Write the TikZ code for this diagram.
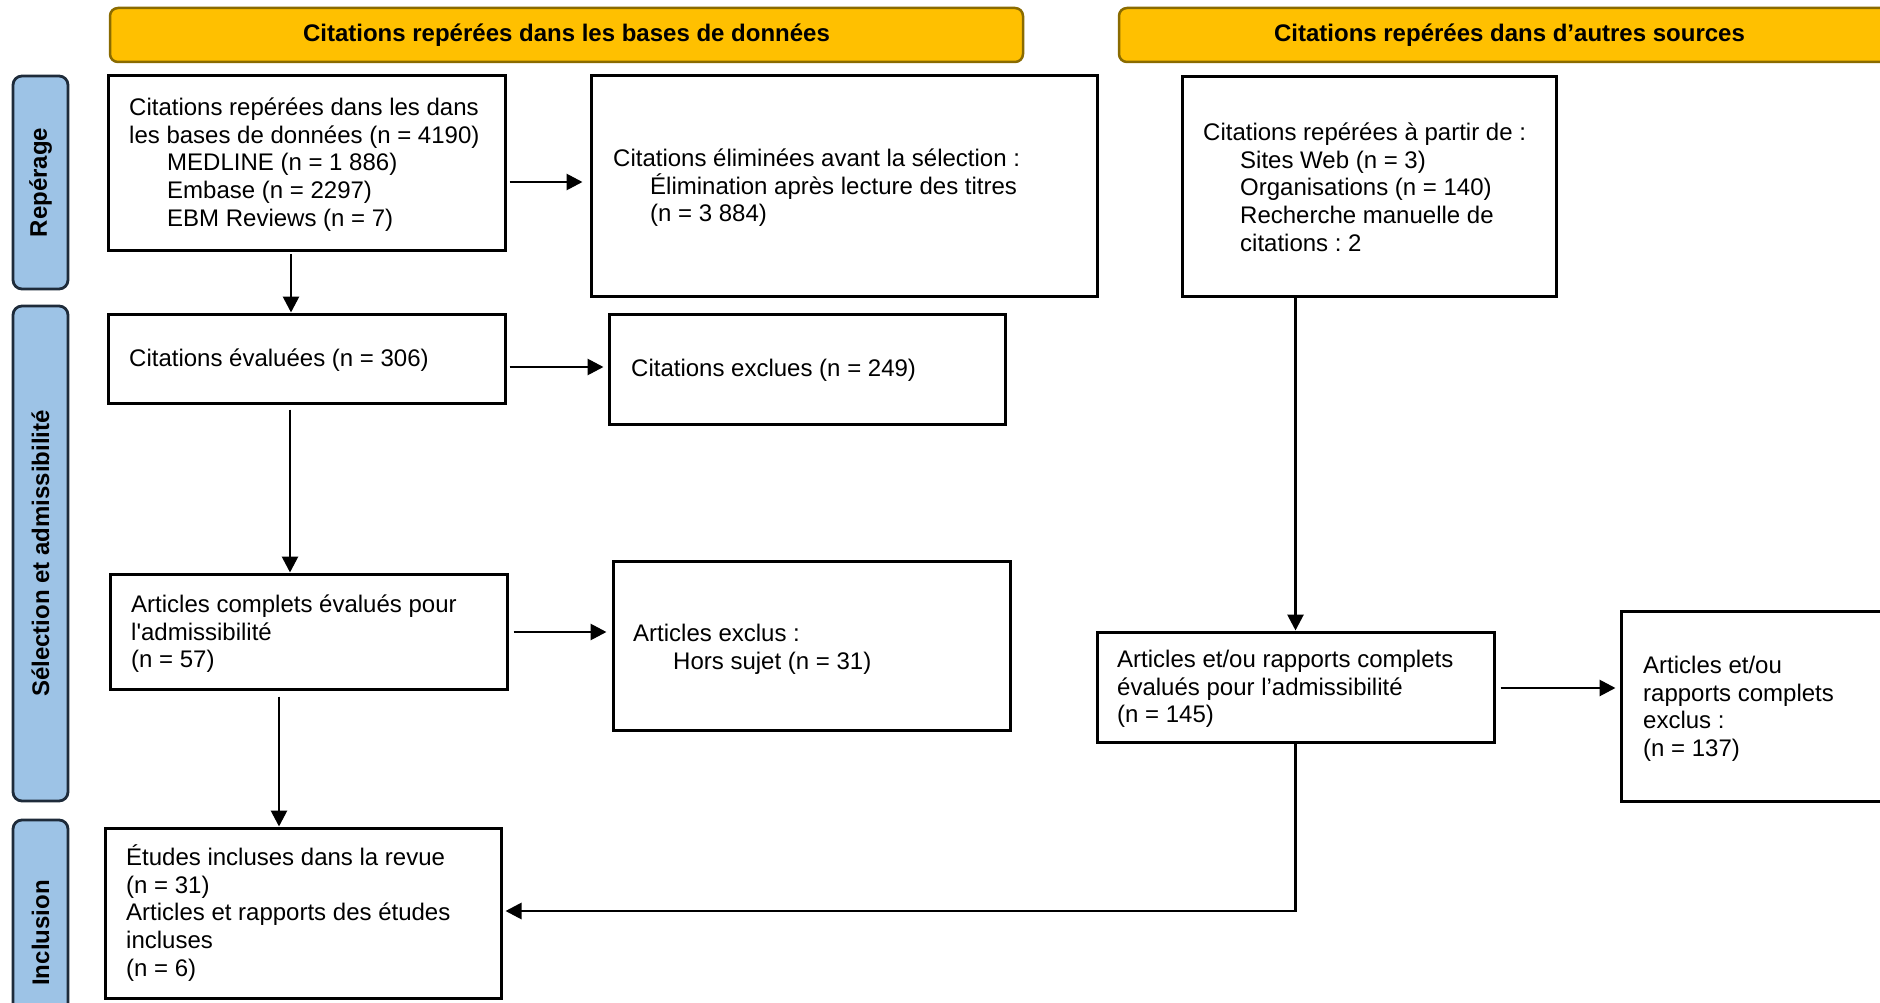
\documentclass[tikz,border=0pt]{standalone}
\usepackage{fontspec}
\setmainfont{Liberation Sans}
\usetikzlibrary{arrows.meta,calc}
\definecolor{hdrfill}{HTML}{FFC000}
\definecolor{hdrline}{HTML}{8A6B00}
\definecolor{sidefill}{HTML}{9DC3E6}
\definecolor{sideline}{HTML}{1E2B3A}
\newcommand\fst{\rule{0pt}{22pt}}
\newcommand\sq{\XeTeXglyph\XeTeXglyphindex "quotesingle"\relax}
\frenchspacing
\begin{document}
\begin{tikzpicture}[x=1pt,y=-1pt,
  box/.style={draw=black, line width=3pt, fill=white, inner sep=0pt},
  txt/.style={anchor=north west, inner sep=0pt, align=left, font=\frenchspacing\fontsize{24}{27.7}\selectfont},
  hdr/.style={draw=hdrline, fill=hdrfill, line width=2.5pt, rounded corners=8pt, font=\bfseries\fontsize{24}{28}\selectfont, inner sep=0pt},
  side/.style={draw=sideline, fill=sidefill, line width=2.8pt, rounded corners=9pt, inner sep=0pt, rotate=90, font=\bfseries\fontsize{24}{28}\selectfont},
  arr/.style={line width=2.8pt, -{Triangle[length=16pt,width=16pt]}}
]
\useasboundingbox (0,0) rectangle (1880,1003);
\fill[white] (0,0) rectangle (1880,1003);

% headers
\node[hdr, minimum width=913pt, minimum height=54pt] (h1) at (566.5,35) {Citations repérées dans les bases de données};
\node[hdr, minimum width=781pt, minimum height=54pt] (h2) at (1509.5,35) {Citations repérées dans d’autres sources};

% side labels
\node[side, minimum width=213pt, minimum height=55pt] (s1) at (40.5,182.5) {Repérage};
\node[side, minimum width=495pt, minimum height=55pt] (s2) at (40.5,553.5) {Sélection et admissibilité};
\node[side, minimum width=226pt, minimum height=55pt] (s3) at (40.5,933) {Inclusion};

% boxes
\node[box, minimum width=397pt, minimum height=175pt] (A) at (306.5,163.5) {};
\node[box, minimum width=506pt, minimum height=220pt] (B) at (844,186) {};
\node[box, minimum width=374pt, minimum height=219pt] (C) at (1369,186.5) {};
\node[box, minimum width=397pt, minimum height=89pt] (D) at (306.5,358.5) {};
\node[box, minimum width=396pt, minimum height=110pt] (E) at (807,369) {};
\node[box, minimum width=397pt, minimum height=115pt] (F) at (308.5,631.5) {};
\node[box, minimum width=397pt, minimum height=169pt] (G) at (811.5,645.5) {};
\node[box, minimum width=397pt, minimum height=110pt] (H) at (1295.5,687) {};
\node[box, minimum width=279pt, minimum height=190pt] (I) at (1760.5,706) {};
\node[box, minimum width=396pt, minimum height=170pt] (J) at (303,913) {};

% texts
\node[txt] (tA) at (129,93.3) {\fst Citations repérées dans les dans\\les bases de données (n = 4190)\\\hspace*{38pt}MEDLINE (n = 1 886)\\\hspace*{38pt}Embase (n = 2297)\\\hspace*{38pt}EBM Reviews (n = 7)};
\node[txt] (tB) at (613,144.3) {\fst Citations éliminées avant la sélection :\\\hspace*{37pt}Élimination après lecture des titres\\\hspace*{37pt}(n = 3 884)};
\node[txt] (tC) at (1203,118.3) {\fst Citations repérées à partir de :\\\hspace*{37pt}Sites Web (n = 3)\\\hspace*{37pt}Organisations (n = 140)\\\hspace*{37pt}Recherche manuelle de\\\hspace*{37pt}citations : 2};
\node[txt] (tD) at (129,344.3) {\fst Citations évaluées (n = 306)};
\node[txt] (tE) at (631,354.3) {\fst Citations exclues (n = 249)};
\node[txt] (tF) at (131,590.3) {\fst Articles complets évalués pour\\l\sq admissibilité\\(n = 57)};
\node[txt] (tG) at (633,619.3) {\fst Articles exclus :\\\hspace*{40pt}Hors sujet (n = 31)};
\node[txt] (tH) at (1117,645.3) {\fst Articles et/ou rapports complets\\évalués pour l’admissibilité\\(n = 145)};
\node[txt] (tI) at (1643,651.3) {\fst Articles et/ou\\rapports complets\\exclus :\\(n = 137)};
\node[txt] (tJ) at (126,843.3) {\fst Études incluses dans la revue\\(n = 31)\\Articles et rapports des études\\incluses\\(n = 6)};

% connectors
\draw[arr] ($(A.east)+(3,18.5)$) -- ($(A.east -| B.west)+(-7,18.5)$);
\draw[arr] ($(A.south)+(-15.5,2)$) -- ($(D.north)+(-15.5,0)$);
\draw[arr] ($(D.east)+(3,8.5)$) -- ($(D.east -| E.west)+(-4,8.5)$);
\draw[arr] ($(D.south)+(-16.5,5)$) -- ($(F.north)+(-18.5,0)$);
\draw[arr] ($(F.east)+(5,0.5)$) -- ($(F.east -| G.west)+(-5,0.5)$);
\draw[arr] ($(F.south)+(-29.5,6)$) -- ($(J.north)+(-24,0)$);
\draw[arr] (C.south -| H.north) -- (H.north);
\draw[arr] ($(H.east)+(5,1)$) -- ($(H.east -| I.west)+(-4,1)$);
\draw[arr] (H.south) |- ($(J.east)+(3,-2)$);
\end{tikzpicture}
\end{document}
